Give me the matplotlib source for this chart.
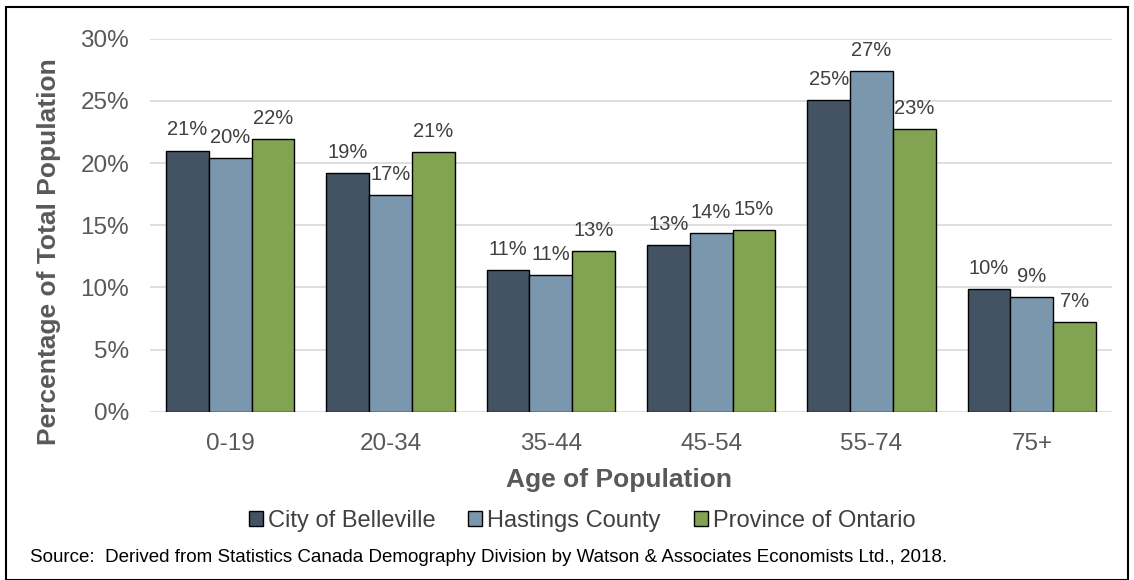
import numpy as np
import matplotlib.pyplot as plt
from matplotlib.patches import Rectangle

plt.rcParams['font.family'] = ['Liberation Sans', 'DejaVu Sans']

ages = ['0-19', '20-34', '35-44', '45-54', '55-74', '75+']
series = ['City of Belleville', 'Hastings County', 'Province of Ontario']
belleville = [21.0, 19.2, 11.4, 13.4, 25.1, 9.85]
hastings = [20.4, 17.4, 11.0, 14.4, 27.4, 9.2]
ontario = [21.9, 20.9, 12.9, 14.6, 22.7, 7.2]
colors = ['#435364', '#7A97AE', '#82A352']
source = 'Source:  Derived from Statistics Canada Demography Division by Watson & Associates Economists Ltd., 2018.'

fig = plt.figure(figsize=(11.34, 5.8), dpi=100)
ax = fig.add_axes([150/1134, 1 - 411.7/580, 962/1134, 373/580])

x = np.arange(len(ages))
w = 0.8 / 3
txt = '#404040'
for i, (vals, c, name) in enumerate(zip([belleville, hastings, ontario], colors, series)):
    bars = ax.bar(x + (i - 1) * w, vals, w, color=c, edgecolor='black', linewidth=1, label=name, zorder=3)
    ax.bar_label(bars, labels=[f'{v:.0f}%' for v in vals], padding=8, fontsize=14.5, color=txt)

ax.set_xlim(-0.5, 5.5)
ax.set_ylim(0, 30)
ax.set_yticks(range(0, 31, 5))
ax.set_yticklabels([f'{t}%' for t in range(0, 31, 5)])
ax.set_xticks(x)
ax.set_xticklabels(ages)
ax.tick_params(axis='both', length=0, labelsize=17.5, colors='#595959')
ax.tick_params(axis='x', pad=15)
ax.tick_params(axis='y', pad=15)
ax.grid(axis='y', color='#D9D9D9', linewidth=1.2, zorder=0)
for s in ax.spines.values():
    s.set_visible(False)

ax.set_xlabel('Age of Population', fontsize=19, fontweight='bold', color='#595959')
ax.set_ylabel('Percentage of Total Population', fontsize=19, fontweight='bold', color='#595959')
ax.xaxis.set_label_coords(0.4875, -0.152)
ax.yaxis.set_label_coords(-0.093, 0.428)

leg = fig.legend(loc='center', bbox_to_anchor=(582/1134, 1 - 521/580), ncol=3, frameon=False,
                 fontsize=17, handlelength=0.6, handleheight=0.6, handletextpad=0.2, columnspacing=1.4)
for t in leg.get_texts():
    t.set_color('#404040')

fig.text(30/1134, 1 - 557/580, source, fontsize=13.5, color='black', va='center', ha='left')

fig.patches.append(Rectangle((6/1134, 0), 1 - 12/1134, 1 - 7/580, transform=fig.transFigure,
                             fill=False, edgecolor='black', linewidth=1.5))

fig.savefig('out.png', dpi=100)
